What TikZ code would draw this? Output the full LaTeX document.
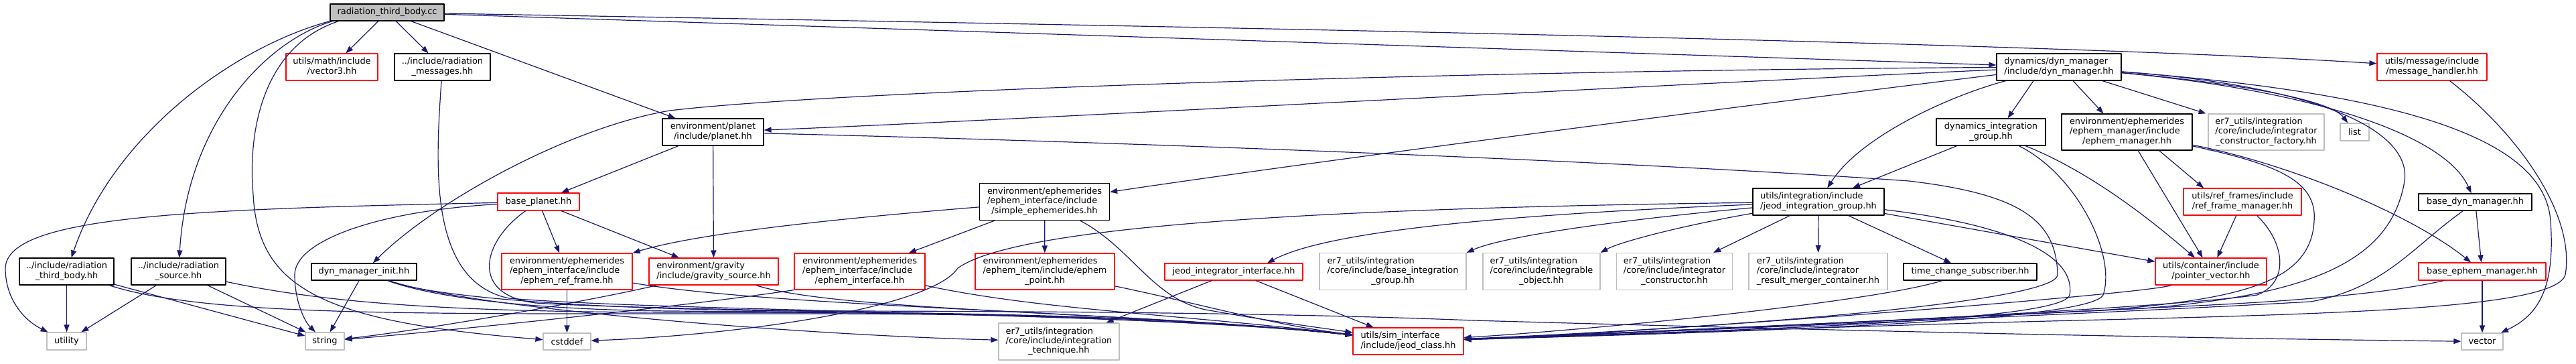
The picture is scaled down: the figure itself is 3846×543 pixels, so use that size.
\documentclass[tikz,border=0pt]{standalone}
\usepackage{fontspec}
\setmainfont{DejaVu Sans}
\usetikzlibrary{arrows.meta}
\definecolor{azulnoche}{HTML}{191970}
\definecolor{grisclaro}{HTML}{BFBFBF}
\newcommand{\etiq}[2]{\begin{tabular}{@{}l@{}}#1\\\multicolumn{1}{@{}c@{}}{#2}\end{tabular}}
\begin{document}
\begin{tikzpicture}[x=1pt, y=-1pt, line width=1.2pt, line join=round,
  caja/.style={rectangle, inner sep=0pt, fill=white, font=\fontsize{12.9}{14.3}\selectfont},
  doc/.style={caja, draw=black},
  roja/.style={caja, draw=red},
  ext/.style={caja, draw=grisclaro},
  tam/.style 2 args={minimum width=#1, minimum height=#2},
  dep/.style={draw=azulnoche, -{Triangle[length=11pt, width=8pt]}}]
  \useasboundingbox (0,0) rectangle (3846,543);
  % fila de arriba
  \node[doc, fill=grisclaro, tam={170}{25}] (main) at (578,18.5) {radiation\_third\_body.cc};
  \node[roja, tam={137}{40}] (vec3) at (495.5,100) {\etiq{utils/math/include}{/vector3.hh}};
  \node[doc, tam={143}{40}] (radmsg) at (660.5,100) {\etiq{../include/radiation}{\_messages.hh}};
  \node[doc, tam={186}{40}] (dynmgr) at (3074,100) {\etiq{dynamics/dyn\_manager}{/include/dyn\_manager.hh}};
  \node[roja, tam={164}{40}] (msgh) at (3631,100) {\etiq{utils/message/include}{/message\_handler.hh}};
  % segunda fila
  \node[doc, tam={151}{40}] (planet) at (1064.5,197) {\etiq{environment/planet}{/include/planet.hh}};
  \node[doc, tam={163}{40}] (dig) at (2972.5,197) {\etiq{dynamics\_integration}{\_group.hh}};
  \node[doc, tam={195}{54}] (ephmgr) at (3175.5,197) {\etiq{environment/ephemerides\\/ephem\_manager/include}{/ephem\_manager.hh}};
  \node[ext, tam={173}{54}] (icf) at (3383.5,197) {\etiq{er7\_utils/integration\\/core/include/integrator}{\_constructor\_factory.hh}};
  \node[ext, tam={43}{26}] (list) at (3515.5,197) {list};
  % tercera fila
  \node[roja, tam={122}{26}] (bplanet) at (804,301) {base\_planet.hh};
  \node[doc, tam={194}{55}] (simple) at (1559.5,301) {\etiq{environment/ephemerides\\/ephem\_interface/include}{/simple\_ephemerides.hh}};
  \node[doc, tam={196}{40}] (jig) at (2715,301) {\etiq{utils/integration/include}{/jeod\_integration\_group.hh}};
  \node[roja, tam={176}{40}] (rfm) at (3348,301) {\etiq{utils/ref\_frames/include}{/ref\_frame\_manager.hh}};
  \node[doc, tam={169}{25}] (bdm) at (3695.5,301.5) {base\_dyn\_manager.hh};
  % cuarta fila
  \node[doc, tam={141}{40}] (rtb) at (99.5,405) {\etiq{../include/radiation}{\_third\_body.hh}};
  \node[doc, tam={141}{40}] (rsrc) at (266.5,405) {\etiq{../include/radiation}{\_source.hh}};
  \node[doc, tam={157}{25}] (dmi) at (543.5,405.5) {dyn\_manager\_init.hh};
  \node[roja, tam={195}{54}] (erf) at (846.5,405) {\etiq{environment/ephemerides\\/ephem\_interface/include}{/ephem\_ref\_frame.hh}};
  \node[roja, tam={193}{40}] (grav) at (1065.5,405) {\etiq{environment/gravity}{/include/gravity\_source.hh}};
  \node[roja, tam={195}{54}] (eif) at (1283.5,405) {\etiq{environment/ephemerides\\/ephem\_interface/include}{/ephem\_interface.hh}};
  \node[roja, tam={208}{54}] (epoint) at (1560,405) {\etiq{environment/ephemerides\\/ephem\_item/include/ephem}{\_point.hh}};
  \node[roja, tam={206}{25}] (jii) at (1842,405.5) {jeod\_integrator\_interface.hh};
  \node[ext, tam={219}{55}] (big) at (2079.5,405) {\etiq{er7\_utils/integration\\/core/include/base\_integration}{\_group.hh}};
  \node[ext, tam={175}{55}] (iobj) at (2301.5,405) {\etiq{er7\_utils/integration\\/core/include/integrable}{\_object.hh}};
  \node[ext, tam={173}{55}] (ic) at (2500,405) {\etiq{er7\_utils/integration\\/core/include/integrator}{\_constructor.hh}};
  \node[ext, tam={207}{55}] (rmc) at (2714.5,405) {\etiq{er7\_utils/integration\\/core/include/integrator}{\_result\_merger\_container.hh}};
  \node[doc, tam={199}{25}] (tcs) at (2941.5,405.5) {time\_change\_subscriber.hh};
  \node[roja, tam={166}{40}] (pv) at (3301,405) {\etiq{utils/container/include}{/pointer\_vector.hh}};
  \node[roja, tam={190}{26}] (bem) at (3706,405) {base\_ephem\_manager.hh};
  % fila de abajo
  \node[ext, tam={59}{26}] (utility) at (99.5,509) {utility};
  \node[ext, tam={58}{26}] (string) at (485,509) {string};
  \node[ext, tam={71}{25}] (cstddef) at (846.5,509.5) {cstddef};
  \node[ext, tam={180}{55}] (itech) at (1581,509.5) {\etiq{er7\_utils/integration\\/core/include/integration}{\_technique.hh}};
  \node[roja, tam={165}{40}] (jclass) at (2102.5,509) {\etiq{utils/sim\_interface}{/include/jeod\_class.hh}};
  \node[ext, tam={62}{25}] (vector) at (3706,509.5) {vector};
  % las flechas rectas
  \foreach \a/\b in {main/vec3, main/radmsg, main/planet, main/dynmgr, planet/bplanet, planet/grav,
      bplanet/erf, bplanet/grav, rtb/utility, rtb/string, rsrc/utility, rsrc/string, dmi/string,
      erf/cstddef, simple/eif, simple/epoint, jii/jclass, jii/itech, dig/jig, jig/ic, jig/rmc,
      jig/tcs, jig/pv, ephmgr/pv, rfm/pv, bdm/bem, bem/vector} {
    \draw[dep] (\a) -- (\b);
  }
  \draw[dep] ([xshift=-38pt]dynmgr.south) -- ([xshift=25pt]dig.north);
  \draw[dep] ([xshift=21pt]dynmgr.south) -- ([xshift=-35pt]ephmgr.north);
  \draw[dep] ([xshift=65pt]dynmgr.south) -- ([xshift=-90pt]icf.north);
  \draw[dep] ([xshift=48pt]ephmgr.south) -- ([xshift=-58pt]rfm.north);
  % desde radiation_third_body.cc
  \draw[dep] (main) .. controls (1500,35) and (3000,60) .. (msgh);
  \draw[dep] (main.south west) .. controls (350,70) and (170,200) .. (rtb);
  \draw[dep] ([xshift=4pt]main.south west) .. controls (400,60) and (280,180) .. (rsrc);
  \draw[dep] ([xshift=13pt]main.south west) .. controls (390,70) and (370,200) .. (378,290)
    .. controls (385,430) and (480,480) .. (cstddef);
  % desde dyn_manager.hh
  \draw[dep] (dynmgr) .. controls (2200,105) and (1250,135) .. (1000,165)
    .. controls (850,190) and (650,300) .. (dmi);
  \draw[dep] (dynmgr) .. controls (2500,125) and (1500,180) .. (planet);
  \draw[dep] (dynmgr) .. controls (2500,170) and (1900,250) .. (simple);
  \draw[dep] (dynmgr) .. controls (2920,140) and (2780,200) .. (jig);
  \draw[dep] (dynmgr) .. controls (3350,125) and (3480,150) .. (list);
  \draw[dep] (dynmgr) .. controls (3450,135) and (3650,200) .. (bdm);
  \draw[dep] (dynmgr) .. controls (3600,140) and (3800,210) .. (3808,330)
    .. controls (3815,430) and (3790,470) .. (vector);
  \draw[dep] (dynmgr) .. controls (3480,130) and (3600,200) .. (3590,270)
    .. controls (3570,390) and (3450,440) .. (3200,460) .. controls (2800,480) and (2350,500) .. (jclass);
  % planetas y efemerides
  \draw[dep] (planet) .. controls (1800,215) and (2500,245) .. (2850,270)
    .. controls (3020,290) and (3070,330) .. (3072,410) .. controls (3070,450) and (2600,488) .. (jclass);
  \draw[dep] (bplanet) .. controls (300,312) and (10,320) .. (8,400)
    .. controls (8,450) and (40,480) .. (utility);
  \draw[dep] (bplanet) .. controls (560,315) and (440,360) .. (440,410)
    .. controls (440,450) and (455,480) .. (string);
  \draw[dep] (grav) .. controls (900,445) and (650,490) .. (string);
  \draw[dep] (eif.south west) .. controls (1000,460) and (650,495) .. (string);
  \draw[dep] (simple) .. controls (1300,322) and (1050,345) .. (erf.north east);
  % todo lo que llega a jeod_class.hh por la izquierda
  \draw[dep] (radmsg) .. controls (650,250) and (640,420) .. (760,445)
    .. controls (1000,465) and (1700,465) .. (jclass);
  \draw[dep] (bplanet) .. controls (720,360) and (700,440) .. (800,452)
    .. controls (1000,465) and (1700,465) .. (jclass);
  \draw[dep] (rtb) .. controls (300,470) and (600,468) .. (1000,468)
    .. controls (1300,468) and (1700,465) .. (jclass);
  \draw[dep] (rsrc) .. controls (500,455) and (700,465) .. (1000,466)
    .. controls (1300,467) and (1700,465) .. (jclass);
  \draw[dep] (dmi) .. controls (650,445) and (800,462) .. (1000,464)
    .. controls (1300,466) and (1700,465) .. (jclass);
  \draw[dep] (dmi) .. controls (700,460) and (1200,500) .. (itech);
  \draw[dep] (dmi) .. controls (650,445) and (900,462) .. (1200,464)
    .. controls (1700,464) and (2000,470) .. (2200,478) .. controls (2800,495) and (3300,505) .. (vector);
  \draw[dep] (erf) .. controls (1150,458) and (1700,465) .. (jclass);
  \draw[dep] (grav) .. controls (1250,465) and (1700,465) .. (jclass);
  \draw[dep] (eif) .. controls (1550,462) and (1750,468) .. (jclass);
  \draw[dep] (simple) .. controls (1690,370) and (1720,445) .. (1800,462)
    .. controls (1900,480) and (1980,490) .. (jclass);
  \draw[dep] (epoint) .. controls (1800,455) and (1900,485) .. (jclass);
  % jeod_integration_group.hh
  \draw[dep] (jig) .. controls (2000,310) and (1520,335) .. (1430,400)
    .. controls (1390,460) and (1100,500) .. (cstddef);
  \draw[dep] (jig) .. controls (2300,318) and (1990,340) .. ([xshift=50pt]jii.north);
  \draw[dep] (jig) .. controls (2450,325) and (2250,350) .. (big.north east);
  \draw[dep] (jig) .. controls (2520,335) and (2420,360) .. (iobj.north east);
  \draw[dep] (jig) .. controls (3000,335) and (3100,380) .. (3090,440)
    .. controls (3080,480) and (2600,492) .. (jclass);
  % lo que llega a jeod_class.hh por la derecha
  \draw[dep] (dig) .. controls (3100,260) and (3160,380) .. (3140,440)
    .. controls (3120,480) and (2600,495) .. (jclass);
  \draw[dep] (dig) .. controls (3130,260) and (3225,340) .. (pv);
  \draw[dep] (tcs) .. controls (2800,450) and (2400,490) .. (jclass);
  \draw[dep] (ephmgr) .. controls (3420,245) and (3600,320) .. (bem);
  \draw[dep] (ephmgr) .. controls (3400,245) and (3460,270) .. (3455,330)
    .. controls (3450,420) and (3350,445) .. (3150,462) .. controls (2800,480) and (2350,500) .. (jclass);
  \draw[dep] (rfm) .. controls (3410,360) and (3420,420) .. (3370,440)
    .. controls (3200,465) and (2350,500) .. (jclass);
  \draw[dep] (pv) .. controls (3200,440) and (2400,500) .. (jclass);
  \draw[dep] (bdm) .. controls (3600,370) and (3560,430) .. (3450,450)
    .. controls (3100,470) and (2350,500) .. (jclass);
  \draw[dep] (bem) .. controls (3600,430) and (3500,445) .. (3300,455)
    .. controls (3000,470) and (2350,500) .. (jclass);
  \draw[dep] (msgh) .. controls (3760,200) and (3845,320) .. (3830,410)
    .. controls (3815,460) and (3500,468) .. (3100,478) .. controls (2800,485) and (2350,502) .. (jclass);
\end{tikzpicture}
\end{document}
